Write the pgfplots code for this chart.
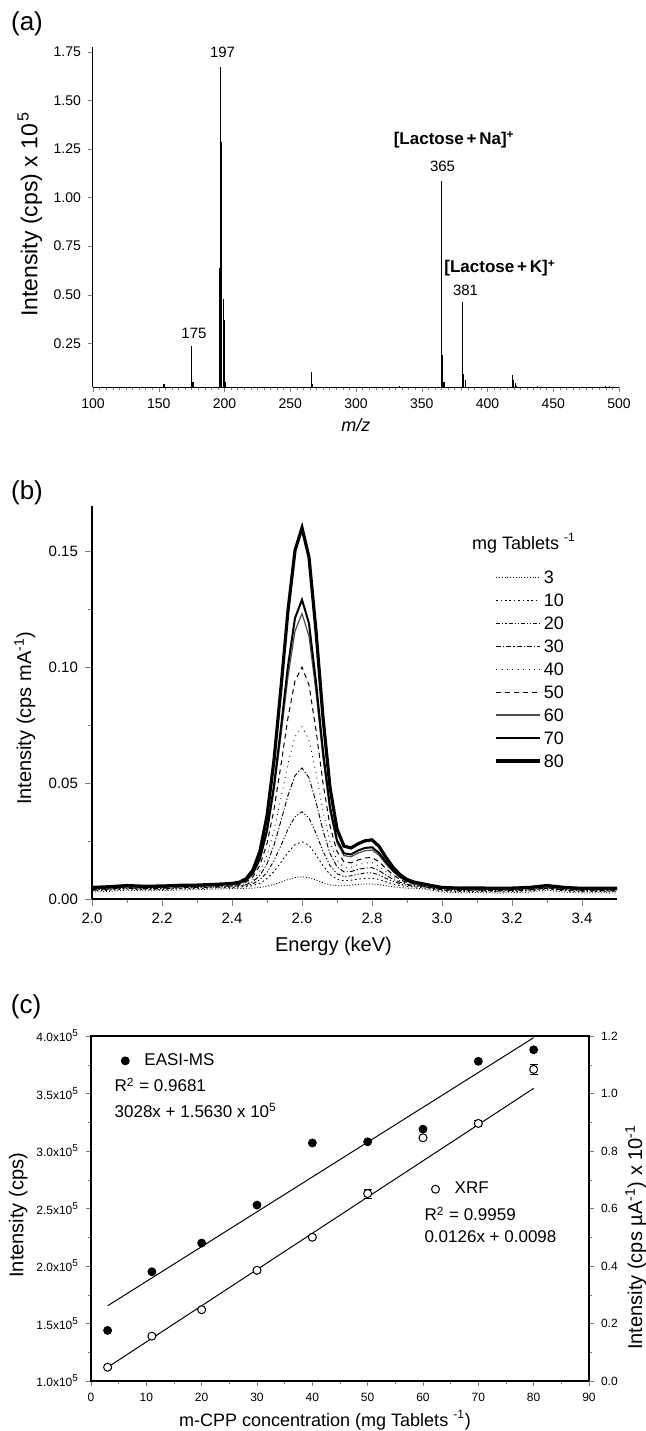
\documentclass[border=0pt]{standalone}
\usepackage{fontspec}
\setmainfont{Liberation Sans}
\usepackage{pgfplots}
\usepackage{pgfplotstable}
\pgfplotsset{compat=1.18}

\newcommand{\fs}[1]{\fontsize{#1}{#1}\selectfont}

% XRF spectra, one column per tablet content (mg)
\pgfplotstableread{
x    c3     c10    c20    c30    c40    c50    c60    c70    c80
2.00 0.0030 0.0035 0.0038 0.0040 0.0042 0.0044 0.0046 0.0048 0.0050
2.05 0.0033 0.0038 0.0041 0.0043 0.0045 0.0047 0.0049 0.0051 0.0053
2.10 0.0038 0.0043 0.0046 0.0048 0.0050 0.0052 0.0054 0.0056 0.0058
2.15 0.0035 0.0040 0.0043 0.0045 0.0047 0.0049 0.0051 0.0053 0.0055
2.20 0.0036 0.0041 0.0044 0.0046 0.0048 0.0050 0.0052 0.0054 0.0056
2.25 0.0039 0.0044 0.0047 0.0049 0.0051 0.0053 0.0055 0.0057 0.0059
2.30 0.0040 0.0045 0.0048 0.0050 0.0052 0.0054 0.0056 0.0058 0.0060
2.35 0.0043 0.0048 0.0051 0.0053 0.0055 0.0057 0.0059 0.0061 0.0063
2.40 0.0045 0.0050 0.0053 0.0056 0.0058 0.0060 0.0063 0.0065 0.0067
2.42 0.0045 0.0051 0.0055 0.0057 0.0060 0.0063 0.0067 0.0069 0.0072
2.44 0.0046 0.0053 0.0058 0.0062 0.0067 0.0073 0.0078 0.0081 0.0087
2.46 0.0047 0.0058 0.0066 0.0075 0.0084 0.0096 0.0107 0.0111 0.0125
2.48 0.0050 0.0068 0.0083 0.0102 0.0121 0.0146 0.0169 0.0177 0.0207
2.50 0.0055 0.0088 0.0115 0.0152 0.0188 0.0239 0.0284 0.0297 0.0358
2.52 0.0063 0.0118 0.0165 0.0232 0.0295 0.0386 0.0467 0.0489 0.0598
2.54 0.0073 0.0159 0.0231 0.0337 0.0436 0.0578 0.0706 0.0740 0.0912
2.56 0.0084 0.0201 0.0301 0.0447 0.0584 0.0782 0.0959 0.1005 0.1244
2.58 0.0093 0.0234 0.0355 0.0532 0.0699 0.0940 0.1155 0.1211 0.1502
2.60 0.0096 0.0247 0.0376 0.0565 0.0743 0.1000 0.1230 0.1290 0.1600
2.62 0.0092 0.0231 0.0349 0.0523 0.0686 0.0922 0.1133 0.1188 0.1473
2.64 0.0082 0.0191 0.0283 0.0418 0.0545 0.0728 0.0892 0.0935 0.1156
2.66 0.0070 0.0143 0.0206 0.0295 0.0379 0.0500 0.0608 0.0638 0.0783
2.68 0.0061 0.0106 0.0144 0.0196 0.0246 0.0315 0.0379 0.0397 0.0481
2.70 0.0057 0.0085 0.0109 0.0139 0.0167 0.0205 0.0242 0.0254 0.0301
2.72 0.0057 0.0079 0.0097 0.0117 0.0137 0.0160 0.0187 0.0197 0.0228
2.74 0.0060 0.0081 0.0100 0.0118 0.0137 0.0156 0.0182 0.0192 0.0220
2.76 0.0063 0.0086 0.0107 0.0128 0.0148 0.0168 0.0198 0.0209 0.0238
2.78 0.0065 0.0089 0.0112 0.0133 0.0155 0.0177 0.0208 0.0220 0.0251
2.80 0.0065 0.0090 0.0113 0.0135 0.0157 0.0179 0.0211 0.0223 0.0255
2.82 0.0062 0.0084 0.0104 0.0123 0.0142 0.0161 0.0189 0.0199 0.0227
2.84 0.0057 0.0074 0.0089 0.0103 0.0117 0.0131 0.0151 0.0159 0.0179
2.86 0.0053 0.0065 0.0076 0.0085 0.0095 0.0105 0.0118 0.0124 0.0137
2.88 0.0049 0.0058 0.0066 0.0072 0.0078 0.0084 0.0093 0.0097 0.0105
2.90 0.0047 0.0054 0.0059 0.0063 0.0067 0.0071 0.0076 0.0079 0.0084
2.92 0.0046 0.0052 0.0055 0.0058 0.0061 0.0064 0.0067 0.0069 0.0073
2.94 0.0045 0.0050 0.0054 0.0056 0.0058 0.0060 0.0063 0.0065 0.0067
2.97 0.0038 0.0043 0.0046 0.0048 0.0050 0.0052 0.0054 0.0056 0.0058
3.00 0.0030 0.0035 0.0038 0.0040 0.0042 0.0044 0.0046 0.0048 0.0050
3.05 0.0027 0.0032 0.0035 0.0037 0.0039 0.0041 0.0043 0.0045 0.0047
3.10 0.0028 0.0033 0.0036 0.0038 0.0040 0.0042 0.0044 0.0046 0.0048
3.15 0.0026 0.0031 0.0034 0.0036 0.0038 0.0040 0.0042 0.0044 0.0046
3.20 0.0027 0.0032 0.0035 0.0037 0.0039 0.0041 0.0043 0.0045 0.0047
3.25 0.0030 0.0035 0.0038 0.0040 0.0042 0.0044 0.0046 0.0048 0.0050
3.30 0.0038 0.0043 0.0046 0.0048 0.0050 0.0052 0.0054 0.0056 0.0058
3.35 0.0030 0.0035 0.0038 0.0040 0.0042 0.0044 0.0046 0.0048 0.0050
3.40 0.0026 0.0031 0.0034 0.0036 0.0038 0.0040 0.0042 0.0044 0.0046
3.45 0.0027 0.0032 0.0035 0.0037 0.0039 0.0041 0.0043 0.0045 0.0047
3.50 0.0026 0.0031 0.0034 0.0036 0.0038 0.0040 0.0042 0.0044 0.0046
}\spectra

\begin{document}
\begin{tikzpicture}
\path[use as bounding box] (0,0) rectangle (323pt,-715.5pt);

\node[font=\fs{13}] at (13.5pt,-12pt) {(a)};
\node[font=\fs{13}] at (13.5pt,-246.5pt) {(b)};
\node[font=\fs{13}] at (13pt,-503.5pt) {(c)};

% ---------- (a) mass spectrum ----------
\begin{axis}[
  at={(46.5pt,-193.5pt)}, anchor=south west,
  scale only axis, width=263pt, height=170pt,
  xmin=100, xmax=500, ymin=0.025, ymax=1.775,
  axis lines*=left, tick align=outside,
  axis line style={line width=0.5pt},
  xtick={100,150,200,250,300,350,400,450,500}, minor x tick num=9,
  ytick={0.25,0.5,0.75,1,1.25,1.5,1.75},
  yticklabel style={/pgf/number format/.cd,fixed,fixed zerofill,precision=2},
  /pgf/number format/assume math mode=true,
  tick label style={font=\fs{7}},
  major tick length=2.5pt, minor tick length=1.5pt,
  ylabel={Intensity (cps) x 10\textsuperscript{\,5}},
  ylabel style={font=\fs{11.5}, at={(axis description cs:-0.12,0.509)}, anchor=center},
  xlabel={\textit{m/z}},
  xlabel style={font=\fs{9}, at={(axis description cs:0.5,-0.112)}, anchor=center},
  clip mode=individual,
]
\addplot[ycomb, black, line width=0.6pt] coordinates {
  (154,0.040) (175,0.236) (176,0.050) (196,0.640) (197,1.673) (198,1.287)
  (199,0.476) (200,0.370) (201,0.050) (266,0.100) (267,0.040) (333,0.030)
  (365,1.086) (366,0.190) (367,0.050) (381,0.464) (382,0.092) (383,0.061)
  (419,0.087) (420,0.061) (421,0.044) (422,0.032) (438,0.030) (490,0.030)
  (493,0.032)};
\node[font=\fs{7.5}] at (axis cs:198.5,1.75) {197};
\node[font=\fs{7.5}] at (axis cs:176.8,0.30) {175};
\node[font=\fs{7.5}] at (axis cs:365.8,1.159) {365};
\node[font=\fs{7.5}] at (axis cs:383.3,0.524) {381};
\node[font=\bfseries\fs{8.5}] at (axis cs:374.7,1.296) {[Lactose\,+\,Na]\textsuperscript{+}};
\node[font=\bfseries\fs{8.5}] at (axis cs:409.6,0.636) {[Lactose\,+\,K]\textsuperscript{+}};
\end{axis}

% ---------- (b) XRF spectra ----------
\begin{axis}[
  at={(46pt,-449.5pt)}, anchor=south west,
  scale only axis, width=262.5pt, height=196.5pt,
  xmin=2, xmax=3.5, ymin=0, ymax=0.1694,
  axis lines*=left, tick align=outside,
  axis line style={line width=0.6pt},
  xtick={2,2.2,2.4,2.6,2.8,3,3.2,3.4}, minor x tick num=1,
  ytick={0,0.05,0.1,0.15}, minor y tick num=1,
  xticklabel style={/pgf/number format/.cd,fixed,fixed zerofill,precision=1},
  yticklabel style={/pgf/number format/.cd,fixed,fixed zerofill,precision=2},
  /pgf/number format/assume math mode=true,
  tick label style={font=\fs{7.5}},
  major tick length=3.5pt, minor tick length=2pt,
  ylabel={Intensity (cps mA\textsuperscript{-1})},
  ylabel style={font=\fs{10}, at={(axis description cs:-0.128,0.46)}, anchor=center},
  xlabel={Energy (keV)},
  xlabel style={font=\fs{10}, at={(axis description cs:0.46,-0.121)}, anchor=center},
  legend image code/.code={\draw[#1] (0pt,0pt) -- (22pt,0pt);},
  legend cell align=left,
  legend style={at={(0.766,0.842)}, anchor=north west, draw=none, fill=none,
    inner sep=0pt, font=\fs{9}, row sep=3pt,
    nodes={inner sep=1pt, text height=6.5pt, text depth=0pt}},
]
\addplot[black, line width=0.4pt, dash pattern=on 0.5pt off 0.9pt] table[x=x,y=c3] {\spectra};
\addlegendentry{3}
\addplot[black, line width=0.45pt, dash pattern=on 0.8pt off 1.4pt] table[x=x,y=c10] {\spectra};
\addlegendentry{10}
\addplot[black, line width=0.45pt, dash pattern=on 2pt off 1pt on 0.6pt off 1pt on 0.6pt off 1pt] table[x=x,y=c20] {\spectra};
\addlegendentry{20}
\addplot[black, line width=0.45pt, dash pattern=on 2.5pt off 1pt on 0.6pt off 1pt] table[x=x,y=c30] {\spectra};
\addlegendentry{30}
\addplot[black, line width=0.4pt, dash pattern=on 0.5pt off 2.2pt] table[x=x,y=c40] {\spectra};
\addlegendentry{40}
\addplot[black, line width=0.5pt, dash pattern=on 2.5pt off 2pt] table[x=x,y=c50] {\spectra};
\addlegendentry{50}
\addplot[black!70, line width=0.6pt] table[x=x,y=c60] {\spectra};
\addlegendentry{60}
\addplot[black, line width=1pt] table[x=x,y=c70] {\spectra};
\addlegendentry{70}
\addplot[black, line width=1.6pt] table[x=x,y=c80] {\spectra};
\addlegendentry{80}
\end{axis}
\node[font=\fs{9}, anchor=west] at (232.5pt,-271.5pt) {mg Tablets \textsuperscript{-1}};

% ---------- (c) calibration, EASI-MS on the left axis ----------
\begin{axis}[
  at={(45.5pt,-690.5pt)}, anchor=south west,
  scale only axis, width=249pt, height=172.5pt,
  xmin=0, xmax=90, ymin=1, ymax=4,
  xtick={0,10,20,30,40,50,60,70,80,90}, minor x tick num=1,
  ytick={1,1.5,2,2.5,3,3.5,4}, minor y tick num=1,
  yticklabels={1.0x10\textsuperscript{5},1.5x10\textsuperscript{5},2.0x10\textsuperscript{5},
    2.5x10\textsuperscript{5},3.0x10\textsuperscript{5},3.5x10\textsuperscript{5},4.0x10\textsuperscript{5}},
  xtick pos=bottom, ytick pos=left, tick align=outside,
  axis line style={line width=0.6pt},
  /pgf/number format/assume math mode=true,
  tick label style={font=\fs{6}},
  major tick length=2.5pt, minor tick length=1.5pt,
  ylabel={Intensity (cps)},
  ylabel style={font=\fs{10}, at={(axis description cs:-0.146,0.48)}, anchor=center},
  xlabel={m-CPP concentration (mg Tablets \textsuperscript{-1})},
  xlabel style={font=\fs{9}, at={(axis description cs:0.47,-0.113)}, anchor=center},
  legend image code/.code={\draw[mark repeat=2,mark phase=2,#1] plot coordinates {(0pt,0pt) (2.85pt,0pt) (5.7pt,0pt)};},
  legend style={at={(0.060,0.928)}, anchor=west, draw=none, fill=none,
    inner sep=0pt, column sep=6.6pt, font=\fs{8.5}, nodes={inner sep=1pt}},
  clip mode=individual,
]
\addplot[only marks, mark=*, mark size=2pt, black] coordinates {
  (3,1.44) (11,1.95) (20,2.20) (30,2.53) (40,3.07) (50,3.08) (60,3.19) (70,3.78) (80,3.88)};
\addlegendentry{EASI-MS}
\addplot[black, line width=0.5pt, forget plot] coordinates {(3,1.6539) (80,3.9854)};
\node[font=\fs{8.5}, anchor=west] at (axis cs:3.0,3.574) {R\textsuperscript{2} = 0.9681};
\node[font=\fs{8.5}, anchor=west] at (axis cs:3.0,3.35) {3028x + 1.5630 x 10\textsuperscript{5}};
\node[font=\fs{8.5}, anchor=west] at (axis cs:59.0,2.452) {R\textsuperscript{2} = 0.9959};
\node[font=\fs{8.5}, anchor=west] at (axis cs:59.0,2.255) {0.0126x + 0.0098};
\end{axis}

% ---------- (c) XRF on the right axis ----------
\begin{axis}[
  at={(45.5pt,-690.5pt)}, anchor=south west,
  scale only axis, width=249pt, height=172.5pt,
  xmin=0, xmax=90, ymin=0, ymax=1.2,
  axis x line=none, axis y line*=right,
  ytick={0,0.2,0.4,0.6,0.8,1,1.2}, minor y tick num=1,
  yticklabel style={/pgf/number format/.cd,fixed,fixed zerofill,precision=1},
  tick align=outside,
  axis line style={line width=0.6pt},
  /pgf/number format/assume math mode=true,
  tick label style={font=\fs{6}},
  major tick length=2.5pt, minor tick length=1.5pt,
  ylabel={Intensity (cps µA\textsuperscript{-1}) x 10\textsuperscript{-1}},
  ylabel style={font=\fs{10}, at={(axis description cs:1.094,0.417)}, anchor=center},
  legend image code/.code={\draw[mark repeat=2,mark phase=2,#1] plot coordinates {(0pt,0pt) (2.85pt,0pt) (5.7pt,0pt)};},
  legend style={at={(0.683,0.556)}, anchor=west, draw=none, fill=none,
    inner sep=0pt, column sep=6.6pt, font=\fs{8.5}, nodes={inner sep=1pt}},
]
\addplot[black, line width=0.5pt, forget plot] coordinates {(3,0.0476) (80,1.0178)};
\addplot[only marks, mark=*, mark size=2pt, black, mark options={fill=white, line width=0.5pt},
  error bars/.cd, y dir=both, y explicit, error bar style={line width=0.5pt}] coordinates {
  (3,0.048) +- (0,0.004) (11,0.156) +- (0,0.005) (20,0.248) +- (0,0.004)
  (30,0.385) +- (0,0.006) (40,0.500) +- (0,0.005) (50,0.652) +- (0,0.016)
  (60,0.846) +- (0,0.006) (70,0.896) +- (0,0.012) (80,1.084) +- (0,0.016)};
\addlegendentry{XRF}
\end{axis}
\end{tikzpicture}
\end{document}
